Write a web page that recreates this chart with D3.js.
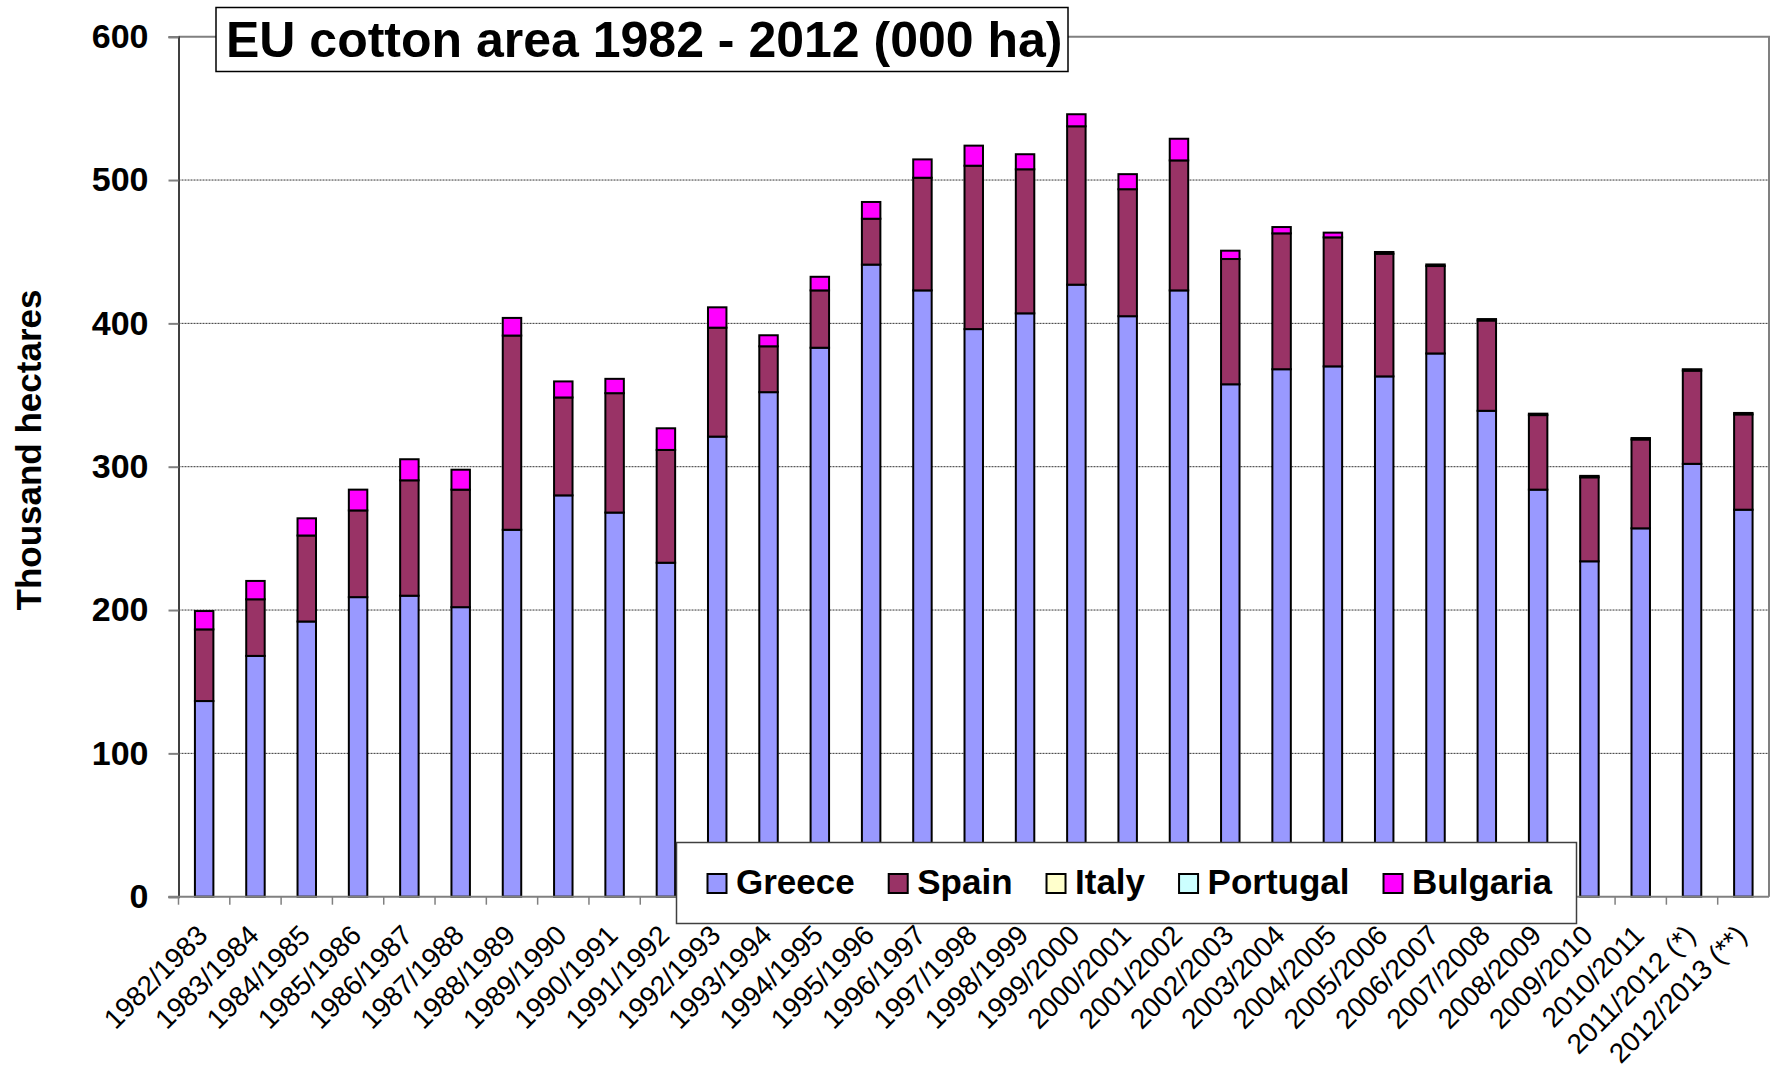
<!DOCTYPE html>
<html>
<head>
<meta charset="utf-8">
<script src="https://cdn.jsdelivr.net/npm/d3@7"></script>
<style>
  body { margin: 0; background: #fff; }
  text { font-family: "Liberation Sans", Arial, sans-serif; }
</style>
</head>
<body>
<div id="chart"></div>
<script>
// campaigns on the x axis
const seasons = ["1982/1983", "1983/1984", "1984/1985", "1985/1986", "1986/1987", "1987/1988",
  "1988/1989", "1989/1990", "1990/1991", "1991/1992", "1992/1993", "1993/1994", "1994/1995",
  "1995/1996", "1996/1997", "1997/1998", "1998/1999", "1999/2000", "2000/2001", "2001/2002",
  "2002/2003", "2003/2004", "2004/2005", "2005/2006", "2006/2007", "2007/2008", "2008/2009",
  "2009/2010", "2010/2011", "2011/2012 (*)", "2012/2013 (**)"]

// area per country, 000 ha
const greece = [136.5, 168, 192, 209, 210, 202, 256, 280, 268, 233, 321, 352, 383, 441, 423, 396,
  407, 427, 405, 423, 357.5, 368, 370, 363, 379, 339, 284, 234, 257, 302, 270]
const spain = [50, 39.5, 60, 60.5, 80.5, 82, 135.5, 68.3, 83.3, 78.7, 76, 32, 40, 32, 78.6, 114,
  100.5, 110.5, 88.6, 90.7, 87.4, 94.8, 90, 85.6, 61, 63, 52, 58.6, 62, 65, 66.5]
const italy = [0, 0, 0, 0, 0, 0, 0, 0, 0, 0, 0, 0, 0, 0, 0, 0, 0, 0, 0, 0, 0, 0, 0, 0, 0, 0, 0, 0, 0, 0, 0]
const portugal = [0, 0, 0, 0, 0, 0, 0, 0, 0, 0, 0, 0, 0, 0, 0, 0, 0, 0, 0, 0, 0, 0, 0, 0, 0, 0, 0, 0, 0, 0, 0]
const bulgaria = [12.8, 12.8, 12, 14.5, 14.7, 13.9, 12.3, 11.2, 10, 15.1, 14.2, 7.7, 9.5, 11.7, 12.8,
  14, 10.5, 8.4, 10.5, 15.1, 5.8, 4.4, 3.3, 1.2, 1.1, 1, 1, 1, 1, 1, 1]

const countries = ["Greece", "Spain", "Italy", "Portugal", "Bulgaria"]
const colors = ["#9999ff", "#993366", "#ffffcc", "#ccffff", "#ff00ff"]
const yTicks = [0, 100, 200, 300, 400, 500, 600]

const title = "EU cotton area 1982 - 2012 (000 ha)"
const yTitle = "Thousand hectares"

// ----------------------------------------------------------

const W = 1771, H = 1071
const plot = { left: 178.5, right: 1769, top: 36.7, bottom: 896.7 }

const svg = d3.select("#chart").append("svg")
  .attr("width", W).attr("height", H)

const rows = seasons.map((s, i) => ({
  season: s, Greece: greece[i], Spain: spain[i], Italy: italy[i],
  Portugal: portugal[i], Bulgaria: bulgaria[i]
}))

const x = d3.scaleBand().domain(seasons)
  .range([plot.left, plot.right]).paddingInner(0.64).paddingOuter(0.32)
const y = d3.scaleLinear().domain([0, 600]).range([plot.bottom, plot.top])
const color = d3.scaleOrdinal().domain(countries).range(colors)

// gridlines
svg.append("g").selectAll("line").data(yTicks.filter(t => t > 0 && t < 600)).enter()
  .append("line")
  .attr("x1", plot.left).attr("x2", plot.right)
  .attr("y1", d => y(d)).attr("y2", d => y(d))
  .attr("stroke", "#333").attr("stroke-width", 1)
  .attr("stroke-dasharray", "2,1")

// plot frame (top + right)
svg.append("path")
  .attr("d", `M${plot.left},${y(600)}H${plot.right}V${y(0)}`)
  .attr("fill", "none").attr("stroke", "#808080").attr("stroke-width", 2)

// stacked bars
const stacked = d3.stack().keys(countries)(rows)
svg.append("g").selectAll("g").data(stacked).enter()
  .append("g").attr("fill", d => color(d.key))
  .selectAll("rect").data(d => d.filter(p => p[1] - p[0] > 0)).enter()
  .append("rect")
  .attr("x", d => x(d.data.season))
  .attr("width", x.bandwidth())
  .attr("y", d => y(d[1]))
  .attr("height", d => y(d[0]) - y(d[1]))
  .attr("stroke", "#000").attr("stroke-width", 2)

// y axis
const yAxis = d3.axisLeft(y).tickValues(yTicks).tickSize(10).tickPadding(20)
const yG = svg.append("g").attr("transform", `translate(${plot.left},0)`).call(yAxis)
yG.select(".domain").attr("stroke", "#404040").attr("stroke-width", 2)
yG.selectAll(".tick line").attr("stroke", "#808080").attr("stroke-width", 2)
yG.selectAll(".tick text")
  .attr("font-size", 34).attr("font-weight", "bold").attr("fill", "#000")
  .attr("font-family", "Liberation Sans, Arial, sans-serif")

// x axis line + ticks at category boundaries
svg.append("line")
  .attr("x1", plot.left - 10).attr("x2", plot.right)
  .attr("y1", y(0)).attr("y2", y(0))
  .attr("stroke", "#808080").attr("stroke-width", 2)
const bounds = d3.range(seasons.length).map(i => x(seasons[i]) - x.step() * x.paddingInner() / 2)
svg.append("g").selectAll("line").data(bounds).enter()
  .append("line")
  .attr("x1", d => d).attr("x2", d => d)
  .attr("y1", y(0)).attr("y2", y(0) + 8)
  .attr("stroke", "#808080").attr("stroke-width", 1.5)

// rotated season labels
svg.append("g").selectAll("text").data(seasons).enter()
  .append("text")
  .attr("transform", d => `translate(${x(d) + x.bandwidth() / 2 + 5},937) rotate(-45)`)
  .attr("text-anchor", "end")
  .attr("font-size", 28)
  .text(d => d)

// y axis title
svg.append("text")
  .attr("transform", "translate(41,450) rotate(-90)")
  .attr("text-anchor", "middle")
  .attr("font-size", 35).attr("font-weight", "bold")
  .text(yTitle)

// title box
svg.append("rect")
  .attr("x", 216).attr("y", 7.5).attr("width", 852).attr("height", 64)
  .attr("fill", "#fff").attr("stroke", "#000").attr("stroke-width", 1.5)
svg.append("text")
  .attr("x", 226).attr("y", 57)
  .attr("font-size", 50).attr("font-weight", "bold")
  .text(title)

// legend
const legend = svg.append("g")
legend.append("rect")
  .attr("x", 676.5).attr("y", 842.5).attr("width", 900).attr("height", 81)
  .attr("fill", "#fff").attr("stroke", "#404040").attr("stroke-width", 1.5)
let lx = 707.5
countries.forEach((c, i) => {
  legend.append("rect")
    .attr("x", lx).attr("y", 874).attr("width", 19).attr("height", 19)
    .attr("fill", colors[i]).attr("stroke", "#000").attr("stroke-width", 2)
  const t = legend.append("text")
    .attr("x", lx + 28.5).attr("y", 893.5)
    .attr("font-size", 35).attr("font-weight", "bold")
    .text(c)
  lx += 28.5 + t.node().getComputedTextLength() + 34
})
</script>
</body>
</html>
